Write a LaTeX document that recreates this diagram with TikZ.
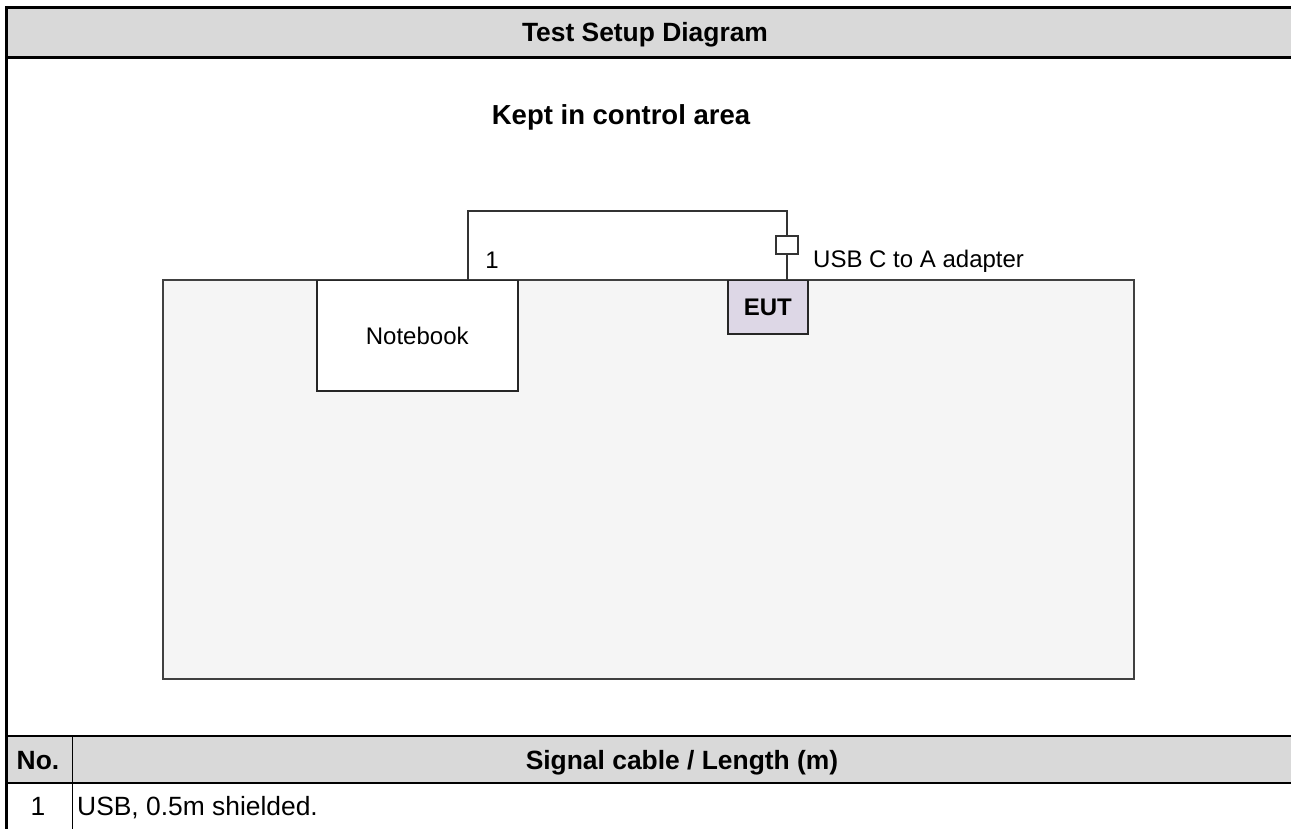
\documentclass[tikz,border=0pt]{standalone}
\usepackage{fontspec}
\setmainfont{Liberation Sans}
\usetikzlibrary{calc,positioning}
\definecolor{hdrgray}{RGB}{217,217,217}
\definecolor{benchgray}{RGB}{245,245,245}
\definecolor{eutlilac}{RGB}{221,215,230}
\tikzset{
  tbltext/.style={font=\fontsize{26.4}{30}\selectfont, inner sep=0pt},
  tblhead/.style={font=\fontsize{26.4}{30}\selectfont\bfseries, inner sep=0pt},
  setuptext/.style={font=\fontsize{24}{28}\selectfont, inner sep=0pt},
  unit/.style={draw=black!85, line width=1.5pt, inner sep=0pt, font=\fontsize{24}{28}\selectfont},
  cable/.style={draw=black!80, line width=1.7pt},
}

\begin{document}
\begin{tikzpicture}[x=1pt,y=-1pt]
    \useasboundingbox (0,0) rectangle (1291,829);
    % table frame and header bands
    \fill[hdrgray] (8,9) rectangle (1291,56);
    \fill[hdrgray] (8,737) rectangle (1291,782);
    \draw[line width=3pt] (5,7.5) -- (1291,7.5);
    \draw[line width=3pt] (6.5,6) -- (6.5,829);
    \draw[line width=3pt] (8,57.5) -- (1291,57.5);
    \draw[line width=2pt] (8,736) -- (1291,736);
    \draw[line width=2pt] (8,783) -- (1291,783);
    \draw[line width=1.5pt] (72.5,736) -- (72.5,829);
    \node[tblhead, anchor=base] (title) at (645,42) {Test Setup Diagram};
    \node[tblhead, anchor=base] (nohead) at (38,769) {No.};
    \node[tblhead, anchor=base] (cablehead) at (682,769) {Signal cable / Length (m)};
    \node[tbltext, anchor=base] (rowno) at (38,815) {1};
    \node[tbltext, anchor=base west] (rowcable) at (77,815) {USB, 0.5m shielded.};

    % setup
    \node[font=\fontsize{27.5}{32}\selectfont\bfseries, inner sep=0pt, anchor=base] (area) at (621,125) {Kept in control area};
    \node[unit, draw=black!75, line width=2pt, fill=benchgray, minimum width=971pt, minimum height=399pt] (bench) at (648.5,479.5) {};
    \node[unit, fill=white, minimum width=201pt, minimum height=110pt, anchor=north west] (nb) at (316,280) {Notebook};
    \node[unit, fill=eutlilac, minimum width=80pt, minimum height=53pt, anchor=north west] (eut) at (727,280) {\bfseries EUT};
    \coordinate (nbport) at ($(nb.north west)!0.75!(nb.north east)$);
    \node[draw=black!80, line width=1.5pt, fill=white, minimum width=22pt, minimum height=18pt, inner sep=0pt] (adapter) at (787,245) {};
    \draw[cable] (nbport) -- ++(0,-69) -| (adapter.north);
    \draw[cable] (adapter.south) -- (adapter.south |- eut.north);
    \node[setuptext, anchor=base] (cableno) at (492,269) {1};
    \node[setuptext, anchor=base west] (adaptertxt) at (813,268) {USB C to A adapter};
\end{tikzpicture}
\end{document}
